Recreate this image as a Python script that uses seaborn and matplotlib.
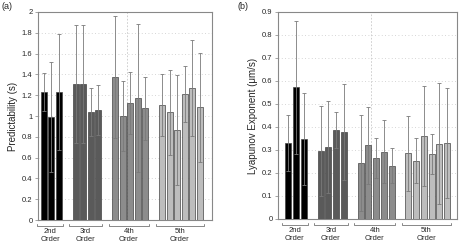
import pandas as pd
import numpy as np
import matplotlib
matplotlib.use("Agg")
import matplotlib.pyplot as plt
import seaborn as sns

# group labels and bar counts per group
groups = ["2nd\nOrder", "3rd\nOrder", "4th\nOrder", "5th\nOrder"]
group_sizes = [3, 4, 5, 6]
group_colors = ["#000000", "#5a5a5a", "#8c8c8c", "#bdbdbd"]

# (a) predictability (s), mean and sd
pred_mean = [1.23, 0.99, 1.23,
             1.31, 1.305, 1.04, 1.055,
             1.375, 1.00, 1.125, 1.17, 1.074,
             1.106, 1.035, 0.865, 1.208, 1.27, 1.083]
pred_sd = [0.18, 0.53, 0.555,
           0.565, 0.565, 0.23, 0.24,
           0.585, 0.336, 0.295, 0.71, 0.30,
           0.30, 0.41, 0.53, 0.27, 0.46, 0.525]

# (b) lyapunov exponent (um/s), mean and sd
lyap_mean = [0.33, 0.572, 0.349,
             0.296, 0.314, 0.387, 0.378,
             0.243, 0.32, 0.265, 0.293, 0.232,
             0.286, 0.253, 0.362, 0.281, 0.327, 0.33]
lyap_sd = [0.12, 0.29, 0.20,
           0.197, 0.20, 0.078, 0.21,
           0.207, 0.167, 0.087, 0.136, 0.077,
           0.163, 0.098, 0.218, 0.087, 0.263, 0.238]

gap = 2.2
pos = []
grp = []
start = 0.0
for g, n in zip(groups, group_sizes):
    for i in range(n):
        pos.append(round(start + i, 2))
        grp.append(g)
    start = start + n - 1 + gap

df = pd.DataFrame({"pos": pos, "group": grp,
                   "pred": pred_mean, "pred_sd": pred_sd,
                   "lyap": lyap_mean, "lyap_sd": lyap_sd})

sns.set_style("white")
plt.rcParams["font.family"] = ["Liberation Sans", "DejaVu Sans"]

fig = plt.figure(figsize=(4.59, 2.44), dpi=100)
ax1 = fig.add_axes([0.0828, 0.098, 0.3792, 0.853])
ax2 = fig.add_axes([0.6057, 0.1025, 0.3899, 0.8485])

pal = dict(zip(groups, group_colors))


def panel(ax, col, sdcol, ymax, step, xlim, ylabel, vline):
    sns.barplot(data=df, x="pos", y=col, hue="group", palette=pal,
                native_scale=True, dodge=False, width=0.78, legend=False,
                edgecolor="#444444", linewidth=0.5, errorbar=None, ax=ax,
                zorder=3)
    ax.errorbar(df["pos"], df[col], yerr=df[sdcol], fmt="none",
                ecolor="#7a7a7a", elinewidth=0.6, capsize=1.5,
                capthick=0.6, zorder=4)
    ax.set_xlim(*xlim)
    ax.set_ylim(0, ymax)
    ticks = np.round(np.arange(0, ymax + step / 2, step), 2)
    ax.set_yticks(ticks)
    ax.set_yticklabels([("%g" % t) for t in ticks])
    ax.set_xticks([])
    ax.set_xlabel("")
    ax.set_ylabel(ylabel, fontsize=7, labelpad=3)
    ax.tick_params(axis="y", labelsize=5.5, length=2, width=0.5,
                   color="#808080", pad=2, left=True)
    for s in ax.spines.values():
        s.set_color("#888888")
        s.set_linewidth(0.8)
    for t in ticks[1:-1]:
        ax.axhline(t, color="#c8c8c8", lw=0.6, ls=(0, (1, 3)), zorder=1)
    ax.axvline(vline, color="#c8c8c8", lw=0.6, ls=(0, (2, 2)), zorder=1)
    trans = ax.get_xaxis_transform()
    s0 = 0
    for g, n in zip(groups, group_sizes):
        p = df["pos"].values[s0:s0 + n]
        x0, x1 = p[0] - 0.85, p[-1] + 0.5
        ax.plot([x0, x0, x1, x1], [-0.017, -0.03, -0.03, -0.017],
                transform=trans, color="#888888", lw=0.7, clip_on=False)
        ax.text((x0 + x1) / 2, -0.04, g, transform=trans, ha="center",
                va="top", fontsize=5.5, linespacing=1.15)
        s0 += n


panel(ax1, "pred", "pred_sd", 2.0, 0.2, (-0.75, 22.2),
      "Predictability (s)", 11.0)
panel(ax2, "lyap", "lyap_sd", 0.9, 0.1, (-1.35, 21.9),
      "Lyapunov Exponent (\u03bcm/s)", 10.7)

fig.text(2 / 459, 1 - 2 / 244, "(a)", fontsize=6.5, va="top", ha="left")
fig.text(238 / 459, 1 - 2 / 244, "(b)", fontsize=6.5, va="top", ha="left")

fig.savefig("out.png", dpi=100)
